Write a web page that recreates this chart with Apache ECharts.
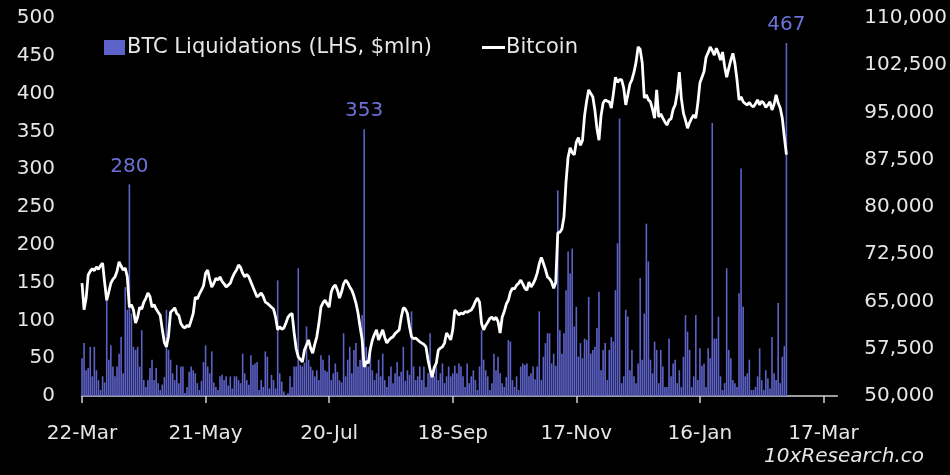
<!DOCTYPE html>
<html>
<head>
<meta charset="utf-8">
<script src="https://cdn.jsdelivr.net/npm/echarts@6/dist/echarts.min.js"></script>
<style>
  html, body { margin: 0; padding: 0; background: #000; }
  #chart { width: 950px; height: 475px; }
</style>
</head>
<body>
<div id="chart"></div>
<script>
// day 0 = 22-Mar-2024, one value per day

// x axis ticks (days from start) and their labels
var xTickDays = [0, 60, 120, 180, 240, 300, 360]
var xTickLabels = ['22-Mar', '21-May', '20-Jul', '18-Sep', '17-Nov', '16-Jan', '17-Mar']

// daily BTC liquidations, $mln (LHS)
var liquidations = [
  50, 70, 34, 37, 65, 26, 65, 34, 21, 8,
  26, 18, 127, 48, 67, 39, 26, 39, 56, 78,
  30, 144, 114, 280, 109, 65, 61, 65, 39, 87,
  21, 12, 21, 37, 48, 21, 37, 17, 8, 15,
  25, 114, 61, 48, 30, 21, 41, 17, 39, 39,
  4, 12, 32, 39, 34, 30, 17, 8, 20, 45,
  67, 39, 30, 59, 18, 12, 8, 26, 28, 21,
  26, 14, 26, 10, 26, 26, 21, 17, 56, 30,
  21, 15, 54, 41, 43, 45, 8, 21, 12, 59,
  52, 10, 28, 21, 10, 153, 30, 19, 6, 1,
  4, 26, 12, 39, 39, 169, 41, 39, 44, 92,
  48, 39, 34, 26, 34, 21, 54, 48, 34, 32,
  54, 21, 30, 43, 32, 21, 18, 83, 26, 48,
  65, 30, 61, 70, 39, 48, 107, 353, 65, 39,
  54, 34, 21, 30, 48, 26, 56, 21, 12, 26,
  39, 17, 30, 45, 26, 32, 65, 20, 34, 28,
  112, 39, 21, 26, 39, 21, 39, 12, 30, 83,
  34, 26, 39, 21, 30, 43, 17, 26, 39, 26,
  30, 40, 30, 43, 39, 26, 12, 43, 17, 26,
  34, 21, 8, 39, 87, 48, 34, 26, 8, 17,
  56, 34, 52, 30, 17, 12, 25, 74, 72, 21,
  12, 26, 8, 39, 43, 41, 43, 26, 30, 39,
  22, 39, 112, 21, 52, 70, 83, 83, 43, 56,
  40, 272, 87, 56, 83, 140, 191, 162, 195, 92,
  118, 52, 70, 50, 76, 74, 131, 56, 61, 65,
  90, 138, 34, 61, 70, 21, 61, 78, 72, 140,
  202, 367, 17, 26, 114, 105, 34, 61, 26, 17,
  43, 156, 48, 109, 228, 178, 48, 30, 72, 61,
  17, 61, 39, 12, 12, 76, 26, 43, 48, 17,
  34, 12, 52, 107, 85, 61, 12, 26, 107, 21,
  63, 40, 43, 12, 63, 50, 361, 76, 76, 105,
  26, 8, 17, 169, 61, 50, 21, 17, 12, 136,
  301, 118, 26, 30, 48, 8, 8, 12, 26, 63,
  21, 8, 34, 23, 10, 78, 30, 21, 123, 17,
  52, 66, 467
]

// daily Bitcoin price, USD (RHS)
var bitcoin = [
  67900, 63700, 65500, 69200, 69800, 70200, 69900, 70500, 70100, 70700,
  71100, 68000, 65200, 66500, 67900, 68500, 68900, 69800, 71300, 70600,
  70000, 70300, 68900, 64100, 64500, 63650, 61600, 62500, 64100, 63800,
  64900, 65500, 66350, 65800, 64100, 64500, 63800, 63300, 62800, 60500,
  58500, 57800, 59500, 63300, 63600, 64000, 63100, 62800, 61500, 61000,
  60800, 61200, 61000, 62000, 63100, 65700, 65400, 66200, 66800, 67500,
  69500, 70000, 68500, 67300, 67900, 68700, 68400, 68900, 68200, 67800,
  67300, 67600, 67900, 68800, 69500, 70000, 70800, 70400, 69500, 68900,
  69300, 68900, 68100, 67300, 66500, 65700, 66000, 66350, 65800, 64900,
  64700, 64400, 64100, 63800, 62500, 60500, 61000, 60600, 60800, 61600,
  62500, 62900, 63100, 60000, 57500, 56200, 55800, 55400, 57300, 58100,
  58900, 57600, 56800, 58200, 59400, 61500, 64100, 64800, 65200, 64600,
  64100, 66500, 67300, 67600, 66800, 65550, 66500, 67800, 68400, 68000,
  67300, 66800, 65900, 64750, 63200, 61000, 59000, 54600, 55500, 55200,
  57500, 58900, 59800, 60500, 58900, 59700, 60500, 59300, 58400, 58900,
  59200, 59400, 59900, 60200, 60500, 62500, 64000, 63800, 63100, 61000,
  59400, 59100, 59200, 58900, 58600, 58400, 58200, 57800, 55700, 54200,
  53000, 54500, 55200, 57300, 57600, 57800, 58400, 60000, 59500, 58900,
  60500, 63650, 63300, 62850, 63200, 63000, 63400, 63300, 63500, 63650,
  64200, 65000, 65550, 64900, 61500, 60500, 61200, 61700, 62300, 62500,
  62100, 62500, 61800, 60000, 62500, 63400, 64600, 65200, 66500, 67100,
  67000, 67600, 67900, 68400, 67800, 67100, 66800, 68100, 67300, 67800,
  68500, 69500, 71000, 72000, 71100, 70100, 68900, 68600, 68100, 67100,
  68000, 75900, 76000, 76500, 78400, 84000, 87900, 89400, 88600, 88300,
  90300, 91000, 89800, 90600, 94500, 96800, 98600, 98000, 97500, 95400,
  92500, 90600, 94500, 96500, 97000, 96800, 96700, 95700, 98000, 100600,
  99800, 100200, 100200, 98900, 96200, 97800, 99500, 100200, 101400, 103000,
  105400, 105000, 102900, 97300, 97800, 97000, 96700, 95500, 94100, 98600,
  94300, 94800, 94100, 93500, 93000, 93800, 94000, 95500, 96200, 98100,
  101400, 97200, 94900, 93800, 92500, 93400, 94100, 94600, 94100, 96500,
  99700, 100600, 101500, 103800, 104500, 105400, 104800, 104100, 105200, 104400,
  103300, 104600, 102300, 100600, 102000, 103300, 104400, 102800, 100200, 97000,
  97500, 96700, 96400, 96200, 96600, 96100, 95900, 96400, 97000, 96200,
  96800, 96500, 95800, 96200, 96700, 95400, 96300, 97800, 96500, 95700,
  94100, 91100, 88300
]

// days whose bar gets a value label
var labelledDays = [23, 137, 342]

var barName = 'BTC Liquidations (LHS, $mln)'
var lineName = 'Bitcoin'
var textColor = '#e6e6e6'
var barColor = '#5d62c9'
var fontFamily = 'DejaVu Sans'

var chart = echarts.init(document.getElementById('chart'))

var barData = liquidations.map(function (v, i) {
  if (labelledDays.indexOf(i) >= 0) {
    return {value: [i, v], label: {show: true}}
  }
  return [i, v]
})
var lineData = bitcoin.map(function (v, i) {
  return [i, v]
})

var option = {
  backgroundColor: '#000',
  animation: false,
  textStyle: {fontFamily: fontFamily},
  grid: {left: 82, right: 104, top: 18, bottom: 79},
  legend: [{
    data: [barName],
    left: 99, top: 32,
    icon: 'rect', itemWidth: 21, itemHeight: 15, itemGap: 0,
    textStyle: {color: textColor, fontSize: 21, fontFamily: fontFamily, padding: [0, 0, 0, -3]}
  }, {
    data: [lineName],
    left: 477, top: 32,
    icon: 'rect', itemWidth: 23, itemHeight: 3,
    textStyle: {color: textColor, fontSize: 21, fontFamily: fontFamily, padding: [0, 0, 0, -4]}
  }],
  xAxis: {
    type: 'value',
    min: 0,
    max: 366.7,
    splitLine: {show: false},
    axisLine: {show: true, lineStyle: {color: '#cfcfcf', width: 1.5}},
    axisTick: {show: true, customValues: xTickDays, length: 7, lineStyle: {color: '#cfcfcf', width: 1.5}},
    axisLabel: {
      customValues: xTickDays,
      color: textColor, fontSize: 20, margin: 28,
      formatter: function (v) {
        var k = xTickDays.indexOf(Math.round(v))
        return k >= 0 ? xTickLabels[k] : ''
      }
    }
  },
  yAxis: [{
    type: 'value',
    min: 0, max: 500, interval: 50,
    splitLine: {show: false},
    axisLine: {show: false},
    axisTick: {show: false},
    axisLabel: {color: textColor, fontSize: 20, margin: 27}
  }, {
    type: 'value',
    min: 50000, max: 110000, interval: 7500,
    position: 'right',
    splitLine: {show: false},
    axisLine: {show: false},
    axisTick: {show: false},
    axisLabel: {
      color: textColor, fontSize: 20, margin: 27,
      formatter: function (v) { return v.toLocaleString('en-US') }
    }
  }],
  series: [{
    name: barName,
    type: 'bar',
    yAxisIndex: 0,
    barWidth: 1.6,
    itemStyle: {color: barColor},
    label: {
      show: false, position: 'top', distance: 8,
      color: '#6c71d8', fontSize: 20, fontFamily: fontFamily
    },
    data: barData
  }, {
    name: lineName,
    type: 'line',
    yAxisIndex: 1,
    showSymbol: false,
    symbol: 'none',
    itemStyle: {color: '#ffffff'},
    lineStyle: {color: '#ffffff', width: 2.8},
    z: 5,
    data: lineData
  }],
  graphic: [{
    type: 'text',
    right: 26, top: 447,
    style: {
      text: '10xResearch.co',
      fill: textColor,
      font: 'italic 20px ' + fontFamily
    }
  }]
}

chart.setOption(option)
</script>
</body>
</html>
